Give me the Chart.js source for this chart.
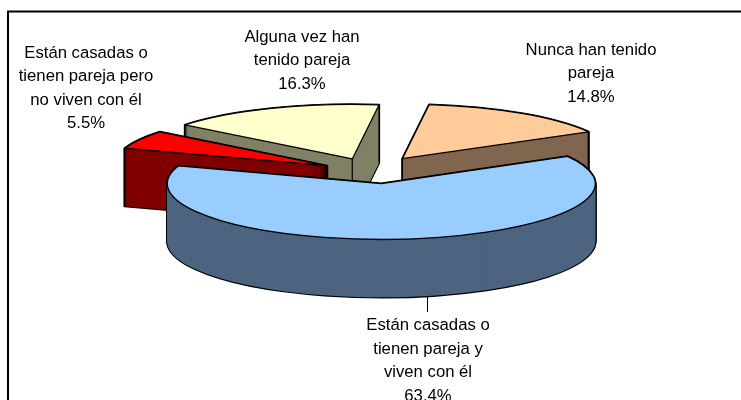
<!DOCTYPE html>
<html>
<head>
<meta charset="utf-8">
<style>html,body{margin:0;padding:0;background:#fff}canvas{display:block}</style>
<script src="https://cdn.jsdelivr.net/npm/chart.js@4"></script>
</head>
<body>
<canvas id="c" width="741" height="400" style="width:741px;height:400px"></canvas>
<script>
// Data, in the chart's clockwise order starting at the rotation angle
const categories = [
  ["Nunca han tenido", "pareja"],
  ["Están casadas o", "tienen pareja y", "viven con él"],
  ["Están casadas o", "tienen pareja pero", "no viven con él"],
  ["Alguna vez han", "tenido pareja"]
];
const shares = [14.8, 63.4, 5.5, 16.3];
const topColors = ["#FFCC99", "#99CCFF", "#FF0000", "#FFFFCC"];
const wallColors = ["#806650", "#4D6480", "#800000", "#808066"];
const paintOrder = [3, 2, 0, 1];
const labelX = [591, 428, 86, 302];
const labelY = [50, 325.5, 53, 37];

const CX = 375, CY = 169, R = 214, DEPTH = 58, BASE_R = 150, EXPLODE = 51;
const explodeInner = EXPLODE * BASE_R / R;
// the original's perspective flattens the far slices slightly
const sliceTilt = [0.255, 0.26, 0.255, 0.255];
const perspectiveX = [-1, 1.5, -3, -3.5];
const perspectiveY = [0.5, 1.5, 3, 2];

const pie3d = {
  id: 'pie3d',
  beforeDatasetDraw(chart) {
    const ctx = chart.ctx, els = chart.getDatasetMeta(0).data;
    paintOrder.forEach(i => paintSlice(ctx, els[i], i, chart.chartArea));
    return false;
  },
  afterDraw(chart) {
    const ctx = chart.ctx;
    ctx.save();
    ctx.strokeStyle = '#000';
    ctx.lineWidth = 2;
    ctx.beginPath(); ctx.moveTo(8, 400); ctx.lineTo(8, 11.5); ctx.lineTo(741, 11.5); ctx.stroke();
    ctx.lineWidth = 1;
    ctx.beginPath(); ctx.moveTo(427.5, 297); ctx.lineTo(427.5, 312); ctx.stroke();
    ctx.fillStyle = '#000';
    ctx.font = '16.7px "Liberation Sans", Arial, sans-serif';
    ctx.textAlign = 'center';
    ctx.textBaseline = 'middle';
    categories.forEach((lines, i) => {
      const all = lines.concat(shares[i].toFixed(1) + '%');
      all.forEach((t, j) => ctx.fillText(t, labelX[i], labelY[i] + j * 23.6));
    });
    ctx.restore();
  }
};

function paintSlice(ctx, el, i, area) {
  const wall = wallColors[i];
  const sx = R / el.outerRadius, sy = sx * sliceTilt[i];
  const ox = CX + perspectiveX[i] - el.x * sx, oy = CY + perspectiveY[i] - el.y * sy;
  const setT = k => ctx.setTransform(sx, 0, 0, sy, ox, oy + k);
  const mid = (el.startAngle + el.endAngle) / 2;
  const ax = el.x + Math.cos(mid) * explodeInner, ay = el.y + Math.sin(mid) * explodeInner;
  const sector = () => {
    ctx.beginPath();
    ctx.moveTo(ax, ay);
    ctx.arc(ax, ay, el.outerRadius, el.startAngle, el.endAngle);
    ctx.closePath();
  };
  const toDevice = (px, py, k) => [px * sx + ox, py * sy + oy + k];
  ctx.save();
  ctx.lineJoin = 'round';
  ctx.strokeStyle = '#000';
  // silhouette of the extruded wall
  ctx.lineWidth = 2.2;
  for (let k = 0; k <= DEPTH; k++) {
    setT(k); sector();
    ctx.setTransform(1, 0, 0, 1, 0, 0); ctx.stroke();
  }
  ctx.fillStyle = wall;
  for (let k = DEPTH; k >= 0; k--) {
    setT(k); sector();
    ctx.setTransform(1, 0, 0, 1, 0, 0); ctx.fill();
  }
  // visible vertical corners
  const startFront = Math.sin(el.startAngle - Math.PI / 2) > 0;
  const endFront = Math.sin(el.endAngle + Math.PI / 2) > 0;
  const corners = [];
  if (startFront) corners.push([ax + Math.cos(el.startAngle) * el.outerRadius, ay + Math.sin(el.startAngle) * el.outerRadius]);
  if (endFront) corners.push([ax + Math.cos(el.endAngle) * el.outerRadius, ay + Math.sin(el.endAngle) * el.outerRadius]);
  if (startFront || endFront) corners.push([ax, ay]);
  ctx.lineWidth = 1.2;
  corners.forEach(([px, py]) => {
    const a = toDevice(px, py, 0), b = toDevice(px, py, DEPTH);
    ctx.beginPath(); ctx.moveTo(a[0], a[1]); ctx.lineTo(b[0], b[1]); ctx.stroke();
  });
  // the top face, drawn by the library's own arc element
  setT(0);
  ctx.translate(ax - el.x, ay - el.y);
  el.draw(ctx, area);
  setT(0); sector();
  ctx.setTransform(1, 0, 0, 1, 0, 0);
  ctx.lineWidth = 1.3;
  ctx.stroke();
  ctx.restore();
}

new Chart(document.getElementById('c'), {
  type: 'pie',
  data: {
    labels: categories.map(l => l.join(' ')),
    datasets: [{
      data: shares,
      backgroundColor: topColors,
      borderWidth: 0,
      clip: false
    }]
  },
  options: {
    responsive: false,
    animation: false,
    rotation: 7.2,
    radius: BASE_R,
    events: [],
    plugins: { legend: { display: false }, tooltip: { enabled: false } }
  },
  plugins: [pie3d]
});
</script>
</body>
</html>
